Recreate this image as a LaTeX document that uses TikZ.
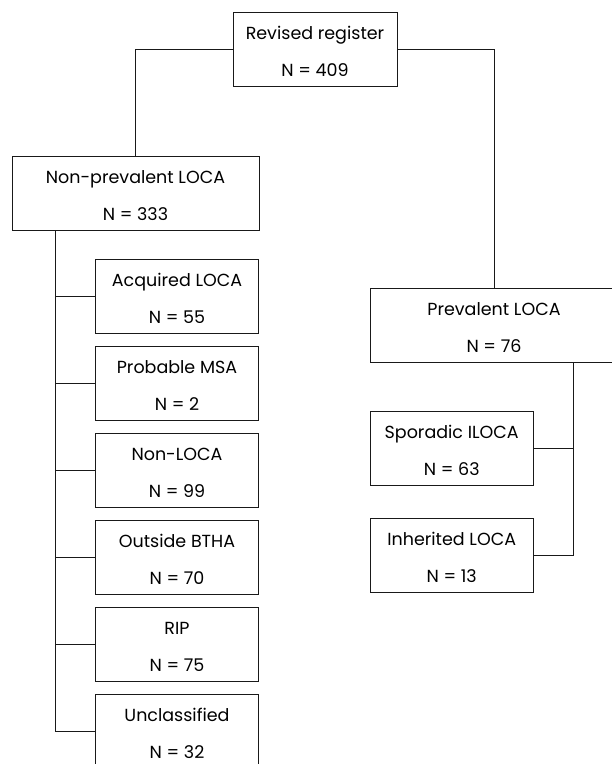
\documentclass[tikz,border=0pt]{standalone}
\usepackage{fontspec}
\setmainfont{Poppins}
\newcommand\topfix{\rule{0pt}{17.5pt}}
\begin{document}
\begin{tikzpicture}[x=1pt,y=-1pt,
  box/.style={draw=black!90, line width=1pt, rectangle, inner sep=0pt, align=center,
    minimum height=74pt, font=\fontsize{17.5}{37}\selectfont},
  big/.style={box, minimum width=247pt},
  small/.style={box, minimum width=163.4pt},
  conn/.style={draw=black!90, line width=1pt}]
\useasboundingbox (0,0) rectangle (612,764);
\clip (0,0) rectangle (612,764);
\node[box, minimum width=164pt] (reg) at (315,49) {\topfix Revised register\\N = 409};
\node[big] (np) at (135.5,193) {\topfix Non-prevalent LOCA\\N = 333};
\node[big, minimum width=248pt] (prev) at (494,325) {\topfix Prevalent LOCA\\N = 76};
\node[small] (acq) at (177,296.3) {\topfix Acquired LOCA\\N = 55};
\node[small] (msa) at (177,383.3) {\topfix Probable MSA\\N = 2};
\node[small] (nl) at (177,470.3) {\topfix Non-LOCA\\N = 99};
\node[small] (btha) at (177,557.3) {\topfix Outside BTHA\\N = 70};
\node[small] (rip) at (177,644.3) {\topfix RIP\\N = 75};
\node[small] (uncl) at (177,731.3) {\topfix Unclassified\\N = 32};
\node[small] (spor) at (451.7,448.3) {\topfix Sporadic ILOCA\\N = 63};
\node[small] (inh) at (451.7,555) {\topfix Inherited LOCA\\N = 13};
\coordinate (ls) at (55,0);
\coordinate (rs) at (573.3,0);
\draw[conn] (reg.west) -| (np.north);
\draw[conn] (reg.east) -| (prev.north);
\draw[conn] (np.south -| ls) |- (uncl.west);
\foreach \n in {acq,msa,nl,btha,rip}
  \draw[conn] (ls |- \n.west) -- (\n.west);
\draw[conn] (prev.south -| rs) |- (inh.east);
\draw[conn] (spor.east) -- (rs |- spor.east);
\end{tikzpicture}
\end{document}
